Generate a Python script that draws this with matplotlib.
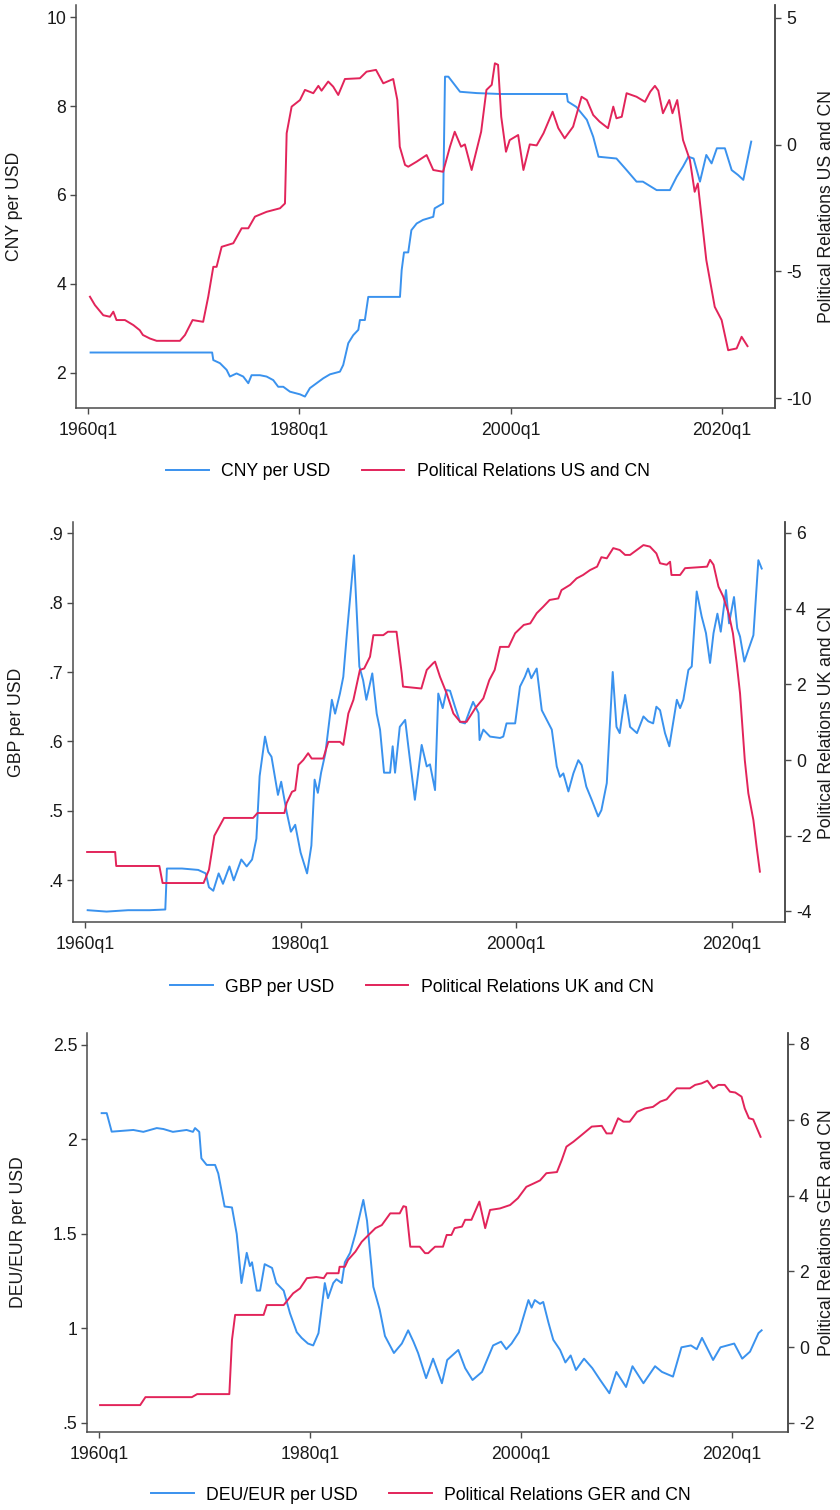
import numpy as np
import matplotlib
matplotlib.use("Agg")
import matplotlib.pyplot as plt
from matplotlib.lines import Line2D

plt.rcParams['font.family'] = ['Liberation Sans', 'DejaVu Sans']
fsize = 12.7
blue, red = '#3a92ee', '#e2245a'
axcol = '#4a4a4a'

# ---- CNY per USD and US-CN political relations (quarterly, decimal year) ----
cny_t = [1960.25, 1971.75, 1971.86, 1972.49, 1973.12, 1973.43, 1974.06, 1974.69, 1975.17, 1975.48,
         1976.27, 1976.9, 1977.53, 1978.0, 1978.48, 1979.11, 1980.06, 1980.53, 1981.0, 1981.63,
         1982.26, 1982.9, 1983.84, 1984.15, 1984.63, 1985.1, 1985.58, 1985.73, 1986.2, 1986.52,
         1989.52, 1989.68, 1989.9, 1990.3, 1990.6, 1991.1, 1991.7, 1992.67, 1992.8, 1993.6,
         1993.78, 1994.1, 1995.2, 1996.8, 1999.0, 2005.3, 2005.4, 2006.2, 2007.2, 2007.8,
         2008.3, 2010.0, 2010.96, 2011.9, 2012.5, 2013.8, 2015.06, 2015.7, 2016.3, 2016.8,
         2017.3, 2017.9, 2018.5, 2019.0, 2019.5, 2020.26, 2020.9, 2021.5, 2022.0, 2022.75]
cny_v = [2.46, 2.46, 2.29, 2.22, 2.07, 1.92, 1.99, 1.92, 1.77, 1.95,
         1.95, 1.92, 1.84, 1.69, 1.69, 1.58, 1.52, 1.47, 1.66, 1.77,
         1.88, 1.97, 2.03, 2.18, 2.67, 2.85, 2.97, 3.19, 3.19, 3.71,
         3.71, 4.31, 4.71, 4.71, 5.21, 5.36, 5.44, 5.51, 5.70, 5.81,
         8.66, 8.66, 8.32, 8.29, 8.27, 8.27, 8.10, 7.98, 7.69, 7.31,
         6.86, 6.82, 6.56, 6.30, 6.30, 6.11, 6.11, 6.41, 6.64, 6.86,
         6.82, 6.30, 6.90, 6.71, 7.05, 7.05, 6.56, 6.45, 6.34, 7.20]

uscn_t = [1960.19, 1960.66, 1961.45, 1962.08, 1962.4, 1962.7, 1963.5, 1964.3, 1964.9, 1965.2,
          1965.87, 1966.5, 1968.7, 1969.18, 1969.9, 1970.9, 1971.38, 1971.86, 1972.17, 1972.65,
          1973.75, 1974.54, 1975.17, 1975.8, 1976.9, 1978.17, 1978.64, 1978.8, 1979.27, 1980.06,
          1980.53, 1981.32, 1981.8, 1982.1, 1982.73, 1983.2, 1983.68, 1984.31, 1985.73, 1986.36,
          1987.25, 1987.94, 1988.88, 1989.27, 1989.5, 1990.0, 1990.3, 1991.1, 1992.04, 1992.67,
          1993.6, 1994.25, 1994.7, 1995.3, 1995.66, 1996.3, 1997.2, 1997.7, 1998.2, 1998.5,
          1998.8, 1999.1, 1999.55, 1999.9, 2000.7, 2001.2, 2001.8, 2002.45, 2003.1, 2003.96,
          2004.5, 2005.1, 2005.9, 2006.7, 2007.2, 2007.8, 2008.4, 2009.2, 2009.7, 2010.0,
          2010.5, 2010.96, 2011.9, 2012.7, 2013.2, 2013.64, 2013.96, 2014.4, 2015.0, 2015.3,
          2015.75, 2016.3, 2016.95, 2017.4, 2017.7, 2018.5, 2019.3, 2019.95, 2020.57, 2021.37,
          2021.84, 2022.4]
uscn_v = [-6.0, -6.33, -6.73, -6.79, -6.59, -6.92, -6.92, -7.12, -7.32, -7.51,
          -7.65, -7.74, -7.74, -7.51, -6.92, -6.99, -6.0, -4.82, -4.82, -4.03,
          -3.89, -3.30, -3.30, -2.84, -2.65, -2.51, -2.32, 0.45, 1.50, 1.76,
          2.16, 2.03, 2.32, 2.13, 2.49, 2.29, 1.96, 2.59, 2.62, 2.88,
          2.95, 2.42, 2.59, 1.76, -0.08, -0.80, -0.87, -0.67, -0.41, -1.0,
          -1.07, -0.08, 0.51, -0.08, 0.01, -1.0, 0.51, 2.16, 2.36, 3.21,
          3.15, 1.10, -0.28, 0.18, 0.38, -1.0, 0.01, -0.03, 0.45, 1.30,
          0.65, 0.25, 0.71, 1.89, 1.76, 1.17, 0.91, 0.65, 1.50, 1.04,
          1.10, 2.03, 1.89, 1.69, 2.09, 2.32, 2.13, 1.24, 1.76, 1.24,
          1.76, 0.18, -0.61, -1.86, -1.53, -4.55, -6.40, -6.92, -8.11, -8.04,
          -7.58, -7.95]

# ---- GBP per USD and UK-CN political relations ----
gbp_t = [1960.25, 1962.0, 1964.0, 1966.0, 1967.45, 1967.6, 1969.0, 1970.5, 1971.2, 1971.5,
         1971.9, 1972.4, 1972.8, 1973.4, 1973.8, 1974.5, 1975.0, 1975.5, 1975.9, 1976.2,
         1976.7, 1977.0, 1977.3, 1977.9, 1978.2, 1978.7, 1979.1, 1979.5, 1980.0, 1980.6,
         1981.0, 1981.3, 1981.6, 1981.9, 1982.3, 1982.9, 1983.2, 1983.65, 1983.96, 1984.3,
         1984.95, 1985.45, 1985.8, 1986.1, 1986.65, 1987.06, 1987.37, 1987.74, 1988.3, 1988.54,
         1988.76, 1989.2, 1989.7, 1989.99, 1990.6, 1991.23, 1991.7, 1992.0, 1992.47, 1992.77,
         1993.18, 1993.55, 1993.86, 1994.32, 1994.79, 1995.25, 1995.7, 1996.0, 1996.5, 1996.6,
         1996.95, 1997.26, 1997.57, 1998.5, 1998.8, 1999.1, 1999.9, 2000.35, 2000.8, 2001.1,
         2001.4, 2001.9, 2002.37, 2002.83, 2003.3, 2003.76, 2004.06, 2004.37, 2004.84, 2005.3,
         2005.76, 2006.07, 2006.5, 2007.0, 2007.6, 2007.9, 2008.4, 2008.95, 2009.3, 2009.6,
         2010.1, 2010.56, 2011.2, 2011.8, 2012.25, 2012.7, 2013.0, 2013.34, 2013.8, 2014.2,
         2014.9, 2015.2, 2015.5, 2015.97, 2016.28, 2016.74, 2017.2, 2017.6, 2017.98, 2018.3,
         2018.66, 2018.97, 2019.46, 2019.74, 2020.2, 2020.5, 2020.76, 2021.16, 2021.53, 2022.0,
         2022.46, 2022.77]
gbp_v = [.357, .355, .357, .357, .358, .417, .417, .415, .410, .390,
         .385, .410, .395, .420, .400, .430, .420, .430, .460, .550,
         .607, .585, .578, .523, .542, .499, .470, .480, .440, .410,
         .450, .545, .526, .555, .583, .660, .640, .669, .693, .756,
         .868, .708, .688, .660, .698, .640, .617, .555, .555, .593,
         .555, .621, .631, .593, .516, .595, .564, .567, .530, .669,
         .648, .674, .673, .650, .628, .626, .645, .657, .641, .602,
         .617, .612, .607, .605, .607, .626, .626, .679, .693, .705,
         .691, .705, .645, .631, .617, .564, .549, .554, .528, .554,
         .573, .566, .535, .516, .492, .501, .540, .700, .621, .612,
         .667, .621, .612, .636, .629, .626, .650, .645, .612, .593,
         .660, .648, .660, .703, .708, .816, .780, .756, .713, .756,
         .784, .758, .818, .770, .808, .763, .751, .715, .732, .753,
         .861, .849]

ukcn_t = [1960.2, 1962.8, 1962.9, 1966.9, 1967.2, 1971.0, 1971.5, 1972.0, 1972.9, 1975.6,
          1976.0, 1978.5, 1978.7, 1979.2, 1979.5, 1979.8, 1980.25, 1980.7, 1981.03, 1982.1,
          1982.57, 1983.65, 1983.96, 1984.43, 1984.9, 1985.5, 1985.9, 1986.44, 1986.75, 1987.67,
          1988.1, 1988.9, 1989.38, 1989.5, 1991.2, 1991.7, 1992.3, 1992.47, 1992.93, 1993.55,
          1994.17, 1994.8, 1995.4, 1996.2, 1996.95, 1997.5, 1998.0, 1998.5, 1999.3, 1999.9,
          2000.7, 2001.3, 2001.9, 2002.5, 2003.1, 2003.9, 2004.2, 2005.0, 2005.6, 2006.2,
          2006.85, 2007.5, 2007.9, 2008.4, 2009.0, 2009.6, 2010.1, 2010.56, 2011.8, 2012.4,
          2013.0, 2013.34, 2013.96, 2014.27, 2014.4, 2015.2, 2015.66, 2017.7, 2017.98, 2018.3,
          2018.76, 2019.2, 2019.7, 2020.1, 2020.45, 2020.76, 2021.2, 2021.53, 2022.0, 2022.3,
          2022.6]
ukcn_v = [-2.43, -2.43, -2.80, -2.80, -3.25, -3.25, -2.90, -2.00, -1.53, -1.53,
          -1.40, -1.40, -1.14, -0.84, -0.80, -0.13, 0.0, 0.18, 0.04, 0.04,
          0.48, 0.48, 0.40, 1.23, 1.59, 2.38, 2.42, 2.73, 3.30, 3.30,
          3.39, 3.39, 2.29, 1.94, 1.89, 2.38, 2.56, 2.60, 2.20, 1.76,
          1.23, 1.01, 1.01, 1.37, 1.63, 2.11, 2.38, 2.99, 2.99, 3.35,
          3.57, 3.61, 3.88, 4.05, 4.23, 4.27, 4.49, 4.63, 4.80, 4.89,
          5.02, 5.11, 5.36, 5.33, 5.60, 5.55, 5.42, 5.42, 5.68, 5.64,
          5.46, 5.20, 5.16, 5.24, 4.89, 4.89, 5.07, 5.11, 5.29, 5.16,
          4.58, 4.32, 3.88, 3.35, 2.56, 1.76, 0.0, -0.88, -1.59, -2.30,
          -2.95]

# ---- DEU/EUR per USD and GER-CN political relations ----
deu_t = [1960.25, 1960.73, 1961.2, 1963.25, 1964.2, 1965.47, 1966.1, 1967.0, 1968.3, 1968.9,
         1969.1, 1969.5, 1969.7, 1970.2, 1971.0, 1971.3, 1971.9, 1972.6, 1973.05, 1973.5,
         1974.0, 1974.3, 1974.5, 1974.95, 1975.26, 1975.7, 1976.4, 1976.8, 1977.5, 1978.1,
         1978.74, 1979.2, 1979.8, 1980.3, 1980.8, 1981.4, 1981.7, 1982.2, 1982.5, 1983.0,
         1983.3, 1983.8, 1984.3, 1985.05, 1985.4, 1986.0, 1986.6, 1987.1, 1987.95, 1988.7,
         1989.3, 1989.8, 1990.24, 1991.0, 1991.66, 1992.5, 1993.0, 1994.05, 1994.7, 1995.4,
         1996.3, 1997.35, 1998.1, 1998.6, 1999.1, 1999.8, 2000.7, 2001.0, 2001.3, 2001.8,
         2002.1, 2002.6, 2003.05, 2003.7, 2004.2, 2004.7, 2005.2, 2005.97, 2006.75, 2007.5,
         2008.37, 2009.03, 2009.95, 2010.56, 2011.6, 2012.7, 2013.35, 2014.4, 2015.2, 2016.1,
         2016.65, 2017.15, 2018.2, 2018.9, 2020.2, 2020.96, 2021.7, 2022.5, 2022.8]
deu_v = [2.139, 2.139, 2.041, 2.050, 2.040, 2.060, 2.055, 2.040, 2.050, 2.040,
         2.060, 2.040, 1.900, 1.865, 1.865, 1.820, 1.645, 1.640, 1.500, 1.240,
         1.400, 1.330, 1.350, 1.200, 1.200, 1.340, 1.320, 1.240, 1.200, 1.080,
         0.980, 0.950, 0.920, 0.910, 0.975, 1.240, 1.160, 1.240, 1.260, 1.240,
         1.350, 1.400, 1.500, 1.680, 1.570, 1.220, 1.100, 0.960, 0.870, 0.920,
         0.990, 0.930, 0.870, 0.737, 0.840, 0.710, 0.833, 0.886, 0.790, 0.727,
         0.770, 0.910, 0.930, 0.890, 0.920, 0.980, 1.150, 1.110, 1.150, 1.130,
         1.140, 1.030, 0.940, 0.886, 0.820, 0.857, 0.780, 0.840, 0.790, 0.727,
         0.657, 0.770, 0.690, 0.800, 0.710, 0.800, 0.770, 0.745, 0.900, 0.910,
         0.890, 0.950, 0.833, 0.900, 0.920, 0.840, 0.877, 0.975, 0.990]

gercn_t = [1960.1, 1963.9, 1964.4, 1968.8, 1969.3, 1972.35, 1972.6, 1972.9, 1975.6, 1975.9,
           1977.5, 1978.4, 1979.05, 1979.7, 1980.6, 1981.3, 1981.6, 1982.7, 1982.8, 1983.3,
           1983.6, 1984.3, 1984.9, 1985.4, 1986.2, 1986.8, 1987.6, 1988.5, 1988.85, 1989.1,
           1989.5, 1990.4, 1990.9, 1991.2, 1991.5, 1991.85, 1992.6, 1992.95, 1993.4, 1993.7,
           1994.4, 1994.7, 1995.3, 1996.05, 1996.6, 1997.06, 1998.0, 1998.96, 1999.7, 2000.5,
           2001.2, 2001.8, 2002.4, 2003.4, 2003.86, 2004.3, 2004.96, 2005.75, 2006.7, 2007.65,
           2008.1, 2008.6, 2009.2, 2009.7, 2010.3, 2011.0, 2011.75, 2012.5, 2013.2, 2013.8,
           2014.3, 2014.76, 2016.0, 2016.5, 2017.1, 2017.66, 2018.2, 2018.7, 2019.3, 2019.8,
           2020.3, 2020.9, 2021.2, 2021.6, 2022.0, 2022.7]
gercn_v = [-1.53, -1.53, -1.32, -1.32, -1.24, -1.24, 0.19, 0.85, 0.85, 1.11,
           1.11, 1.42, 1.55, 1.82, 1.85, 1.82, 1.95, 1.95, 2.12, 2.12,
           2.30, 2.52, 2.78, 2.92, 3.14, 3.22, 3.53, 3.53, 3.72, 3.70,
           2.65, 2.65, 2.48, 2.48, 2.56, 2.65, 2.65, 2.96, 2.96, 3.14,
           3.18, 3.36, 3.36, 3.84, 3.14, 3.62, 3.66, 3.75, 3.93, 4.23,
           4.32, 4.40, 4.59, 4.62, 4.94, 5.29, 5.42, 5.60, 5.82, 5.84,
           5.64, 5.64, 6.04, 5.95, 5.95, 6.21, 6.30, 6.34, 6.48, 6.54,
           6.70, 6.83, 6.83, 6.92, 6.96, 7.03, 6.83, 6.92, 6.92, 6.74,
           6.72, 6.61, 6.30, 6.04, 6.01, 5.55]

xticks = [1960, 1980, 2000, 2020]
xticklabels = ['1960q1', '1980q1', '2000q1', '2020q1']

panels = [
    dict(rect=[76, 5, 775, 408], xlim=(1958.87, 2025.0),
         t1=cny_t, v1=cny_v, t2=uscn_t, v2=uscn_v,
         ylim1=(1.213, 10.27), yt1=[2, 4, 6, 8, 10], yl1=['2', '4', '6', '8', '10'],
         ylim2=(-10.39, 5.51), yt2=[-10, -5, 0, 5], yl2=['-10', '-5', '0', '5'],
         lab1='CNY per USD', lab2='Political Relations US and CN',
         lab1x=23, legx=408, legy=472),
    dict(rect=[73, 522, 785, 922], xlim=(1958.89, 2024.93),
         t1=gbp_t, v1=gbp_v, t2=ukcn_t, v2=ukcn_v,
         ylim1=(0.340, 0.916), yt1=[.4, .5, .6, .7, .8, .9], yl1=['.4', '.5', '.6', '.7', '.8', '.9'],
         ylim2=(-4.28, 6.29), yt2=[-4, -2, 0, 2, 4, 6], yl2=['-4', '-2', '0', '2', '4', '6'],
         lab1='GBP per USD', lab2='Political Relations UK and CN',
         lab1x=25, legx=412, legy=987),
    dict(rect=[87, 1033, 788, 1432], xlim=(1958.86, 2025.3),
         t1=deu_t, v1=deu_v, t2=gercn_t, v2=gercn_v,
         ylim1=(0.452, 2.563), yt1=[.5, 1, 1.5, 2, 2.5], yl1=['.5', '1', '1.5', '2', '2.5'],
         ylim2=(-2.24, 8.29), yt2=[-2, 0, 2, 4, 6, 8], yl2=['-2', '0', '2', '4', '6', '8'],
         lab1='DEU/EUR per USD', lab2='Political Relations GER and CN',
         lab1x=27, legx=421, legy=1495),
]

W, H = 840, 1510
fig = plt.figure(figsize=(W / 100, H / 100), dpi=100)

for p in panels:
    x0, y0, x1, y1 = p['rect']
    ax = fig.add_axes([x0 / W, 1 - y1 / H, (x1 - x0) / W, (y1 - y0) / H])
    ax2 = ax.twinx()

    ax.plot(p['t1'], p['v1'], color=blue, lw=1.4)
    ax2.plot(p['t2'], p['v2'], color=red, lw=1.4)

    ax.set_xlim(*p['xlim'])
    ax.set_ylim(*p['ylim1'])
    ax2.set_ylim(*p['ylim2'])
    ax.set_xticks(xticks)
    ax.set_xticklabels(xticklabels)
    ax.set_yticks(p['yt1'])
    ax.set_yticklabels(p['yl1'])
    ax2.set_yticks(p['yt2'])
    ax2.set_yticklabels(p['yl2'])

    for a in (ax, ax2):
        a.spines['top'].set_visible(False)
        for s in ('left', 'right', 'bottom'):
            a.spines[s].set_color(axcol)
            a.spines[s].set_linewidth(1.1)
        a.tick_params(colors=axcol, labelcolor='#1a1a1a', labelsize=fsize,
                      length=4.5, width=1.0, direction='out')
    ax.tick_params(axis='x', pad=5.5)
    ax.tick_params(axis='y', pad=2.5)
    ax2.tick_params(axis='y', pad=3.5)
    ax2.spines['left'].set_visible(False)
    ax2.spines['bottom'].set_visible(False)

    ax.set_ylabel(p['lab1'], fontsize=fsize, color='#1a1a1a')
    ax.yaxis.set_label_coords((p['lab1x'] - x0) / (x1 - x0), 0.5)
    # right-hand title sits against the figure edge
    fig.text(818 / W, 1 - (y0 + y1) / 2 / H, p['lab2'], rotation=90,
             ha='left', va='center', fontsize=fsize, color='#1a1a1a')

    handles = [Line2D([], [], color=blue, lw=1.4), Line2D([], [], color=red, lw=1.4)]
    fig.legend(handles, [p['lab1'], p['lab2']], loc='center',
               bbox_to_anchor=(p['legx'] / W, 1 - p['legy'] / H), ncol=2,
               frameon=False, fontsize=fsize, handlelength=2.4,
               handletextpad=0.7, columnspacing=1.8, borderpad=0, borderaxespad=0)

fig.savefig('out.png', dpi=100, facecolor='white')
